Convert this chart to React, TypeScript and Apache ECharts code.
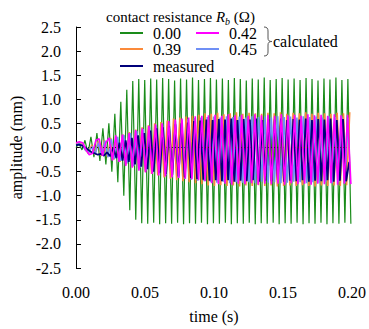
import React, { useEffect, useRef } from 'react';
import * as echarts from 'echarts';

// ---- data ----
const seriesNames = ['0.00', '0.39', '0.42', '0.45', 'measured'];
const xTicks = [0, 0.05, 0.1, 0.15, 0.2];
const yTicks = [-2.5, -2.0, -1.5, -1.0, -0.5, 0.0, 0.5, 1.0, 1.5, 2.0, 2.5];

// time of first extremum and spacing between successive extrema (s), per series
const startTimes = [0, 0, 0, 0, 0];
const halfPeriods = [0.002165, 0.00228, 0.0024, 0.00232, 0.00225];

// successive extremum values (mm)
const green000 = [
  0.0, 0.08, -0.05, 0.15, -0.12, 0.22, -0.2, 0.3, -0.28, 0.4, -0.35, 0.5, -0.5, 0.7, -0.72, 0.95, -1.0, 1.2, -1.3, 1.38, -1.5, 1.42, -1.57,
  1.4, -1.58, 1.43, -1.56, 1.41, -1.59, 1.44, -1.57, 1.42, -1.58,
  1.39, -1.56, 1.43, -1.59, 1.41, -1.57, 1.45, -1.58, 1.4, -1.56,
  1.42, -1.59, 1.44, -1.57, 1.41, -1.58, 1.43, -1.56, 1.4, -1.59,
  1.44, -1.57, 1.42, -1.58, 1.39, -1.56, 1.43, -1.59, 1.41, -1.57,
  1.45, -1.58, 1.4, -1.56, 1.42, -1.59, 1.44, -1.57, 1.41, -1.58,
  1.43, -1.56, 1.4, -1.59, 1.44, -1.57, 1.42, -1.58, 1.39, -1.56,
  1.43, -1.59, 1.41, -1.57, 1.45, -1.58, 1.4, -1.56, 1.42, -1.58,
];
const orange039 = [
  0.08, 0.1, 0.06, -0.05, -0.12, 0.05, -0.15, 0.12, -0.18, 0.15, -0.2, 0.2, -0.25, 0.22, -0.3, 0.27, -0.35, 0.32, -0.4, 0.37, -0.45,
  0.42, -0.5, 0.46, -0.55, 0.5, -0.58, 0.53, -0.62, 0.56, -0.65,
  0.6, -0.68, 0.62, -0.7, 0.64, -0.72, 0.66, -0.74, 0.68, -0.76,
  0.71, -0.79, 0.7, -0.8, 0.72, -0.78, 0.69, -0.8, 0.71, -0.79,
  0.73, -0.81, 0.7, -0.79, 0.72, -0.8, 0.71, -0.78, 0.7, -0.8,
  0.72, -0.79, 0.71, -0.81, 0.73, -0.8, 0.7, -0.79, 0.72, -0.8,
  0.71, -0.78, 0.73, -0.8, 0.7, -0.81, 0.72, -0.79, 0.71, -0.8,
  0.7, -0.79, 0.72, -0.8, 0.71, -0.78, 0.73,
];
const magenta042 = [
  0.1, 0.12, 0.1, -0.05, -0.15, -0.12, 0.15, 0.18, -0.17, 0.1, 0.2, -0.27, 0.25, -0.3, 0.27, -0.38, 0.3, -0.42, 0.36, -0.48,
  0.4, -0.52, 0.45, -0.55, 0.48, -0.58, 0.5, -0.6, 0.55, -0.62, 0.58, -0.63, 0.6, -0.65, 0.62, -0.66, 0.65, -0.68, 0.66, -0.7,
  0.67, -0.74, 0.68, -0.76, 0.66, -0.75, 0.69, -0.77, 0.67, -0.75,
  0.68, -0.76, 0.66, -0.74, 0.69, -0.77, 0.67, -0.75, 0.68, -0.76,
  0.66, -0.75, 0.69, -0.77, 0.67, -0.74, 0.68, -0.76, 0.66, -0.75,
  0.69, -0.77, 0.67, -0.75, 0.68, -0.76, 0.66, -0.74, 0.69, -0.77,
  0.67, -0.75, 0.68, -0.76,
];
const blue045 = [
  0.06, 0.08, 0.04, -0.06, -0.1, 0.02, -0.14, 0.1, -0.16, 0.14, -0.2, 0.18, -0.24, 0.22, -0.28, 0.26, -0.33, 0.3, -0.38, 0.34, -0.42,
  0.38, -0.47, 0.42, -0.51, 0.46, -0.54, 0.49, -0.57, 0.52, -0.6,
  0.55, -0.63, 0.57, -0.65, 0.59, -0.67, 0.61, -0.69, 0.62, -0.7,
  0.63, -0.72, 0.64, -0.73, 0.62, -0.71, 0.65, -0.74, 0.63, -0.72,
  0.64, -0.73, 0.62, -0.72, 0.65, -0.74, 0.63, -0.71, 0.64, -0.73,
  0.62, -0.72, 0.65, -0.74, 0.63, -0.73, 0.64, -0.71, 0.62, -0.72,
  0.65, -0.74, 0.63, -0.72, 0.64, -0.73, 0.62, -0.71, 0.65, -0.74,
  0.63, -0.72, 0.64, -0.73, 0.62,
];
const measured = [
  0.05, 0.06, 0.04, 0.0, -0.05, -0.1, -0.12, -0.15, -0.13, -0.17, -0.1, -0.18, 0.0, -0.22, 0.1, -0.27, 0.15, -0.3, 0.2, -0.35,
  0.25, -0.4, 0.3, -0.45, 0.35, -0.5, 0.4, -0.52, 0.42, -0.55, 0.45, -0.57, 0.48, -0.6, 0.5, -0.62, 0.52, -0.63, 0.55, -0.65,
  0.56, -0.67, 0.58, -0.69, 0.57, -0.68, 0.59, -0.7, 0.58, -0.68,
  0.6, -0.71, 0.57, -0.69, 0.59, -0.7, 0.58, -0.68, 0.6, -0.71,
  0.57, -0.69, 0.59, -0.7, 0.58, -0.68, 0.6, -0.71, 0.57, -0.69,
  0.59, -0.7, 0.58, -0.68, 0.6, -0.71, 0.57, -0.69, 0.59, -0.7,
  0.58, -0.68, 0.6, -0.71, 0.57, -0.69, 0.59, -0.7, -0.3,
];
const seriesValues = [green000, orange039, magenta042, blue045, measured];

// ---- styles ----
const FONT = 'Liberation Serif';
const colors = ['#1a8c1a', '#fb8a3a', '#ff00ff', '#6f8ff5', '#00007a'];
const widths = [1.2, 1.6, 1.6, 1.6, 1.8];
const drawZ = [1, 2, 5, 3, 4];

echarts.graphic.registerShape(
  'brace',
  echarts.graphic.extendPath(
    'M0,0 C3,0 4,1.5 4,4 L4,11 C4,13.5 5,14.5 8,14.5 C5,14.5 4,15.5 4,18 L4,25 C4,27.5 3,29 0,29',
    {}
  )
);

function toPoints(start: number, step: number, values: number[]) {
  return values.map((v, i) => [start + i * step, v]);
}

export default function App() {
  const ref = useRef<HTMLDivElement>(null);
  useEffect(() => {
    if (!ref.current) return;
    const chart = echarts.init(ref.current, undefined, { renderer: 'svg' });

    const series: any[] = seriesNames.map((name, k) => ({
      name,
      type: 'line',
      data: toPoints(startTimes[k], halfPeriods[k], seriesValues[k]),
      symbol: 'none',
      z: drawZ[k],
      lineStyle: { color: colors[k], width: widths[k] },
      itemStyle: { color: colors[k] },
      silent: true,
    }));
    series[2].markLine = {
      silent: true,
      symbol: 'none',
      label: { show: false },
      lineStyle: { color: '#222', type: [1, 2], width: 1 },
      data: [{ yAxis: 0 }],
    };

    const legendRows = [
      { k: 0, x: 120, y: 33 },
      { k: 2, x: 196, y: 33 },
      { k: 1, x: 120, y: 49 },
      { k: 3, x: 196, y: 49 },
      { k: 4, x: 120, y: 66 },
    ];
    const legendGraphics: any[] = [];
    legendRows.forEach((r) => {
      legendGraphics.push({
        type: 'line',
        shape: { x1: r.x, y1: r.y, x2: r.x + 23, y2: r.y },
        style: { stroke: colors[r.k], lineWidth: 2 },
      });
      legendGraphics.push({
        type: 'text',
        x: r.x + 33,
        y: r.y,
        style: {
          text: seriesNames[r.k],
          fontFamily: FONT,
          fontSize: 16,
          fill: '#000',
          verticalAlign: 'middle',
        },
      });
    });

    const axisText = { fontFamily: FONT, fontSize: 16, color: '#000' };

    chart.setOption({
      animation: false,
      textStyle: { fontFamily: FONT },
      grid: { left: 76, right: 14, top: 27, bottom: 57 },
      xAxis: {
        type: 'value',
        min: xTicks[0],
        max: xTicks[xTicks.length - 1],
        interval: 0.05,
        axisLine: { show: false },
        axisTick: { show: false },
        splitLine: { show: false },
        axisLabel: {
          ...axisText,
          margin: 16,
          formatter: (v: number) => v.toFixed(2),
        },
        name: 'time (s)',
        nameLocation: 'middle',
        nameGap: 40,
        nameTextStyle: axisText,
      },
      yAxis: {
        type: 'value',
        min: yTicks[0],
        max: yTicks[yTicks.length - 1],
        interval: 0.5,
        axisLine: { show: true, lineStyle: { color: '#000', width: 1 } },
        axisTick: { show: true, inside: true, length: 5, lineStyle: { color: '#000' } },
        splitLine: { show: false },
        axisLabel: {
          ...axisText,
          margin: 15,
          formatter: (v: number) => v.toFixed(1),
        },
        name: 'amplitude (mm)',
        nameLocation: 'middle',
        nameGap: 48,
        nameTextStyle: axisText,
      },
      series,
      graphic: [
        {
          type: 'text',
          x: 106,
          y: 17,
          style: {
            text: '{n|contact resistance }{i|R}{s|b}{n| (Ω)}',
            verticalAlign: 'middle',
            fill: '#000',
            rich: {
              n: { fontFamily: FONT, fontSize: 15, lineHeight: 18, verticalAlign: 'middle' },
              i: { fontFamily: FONT, fontSize: 15, fontStyle: 'italic', lineHeight: 18, verticalAlign: 'middle' },
              s: { fontFamily: FONT, fontSize: 10, fontStyle: 'italic', lineHeight: 10, verticalAlign: 'bottom' },
            },
          },
        },
        ...legendGraphics,
        {
          type: 'brace',
          x: 264,
          y: 27,
          style: { stroke: '#555', fill: 'none', lineWidth: 1 },
        },
        {
          type: 'text',
          x: 273,
          y: 41,
          style: {
            text: 'calculated',
            fontFamily: FONT,
            fontSize: 16,
            fill: '#000',
            verticalAlign: 'middle',
          },
        },
      ],
    });
    return () => chart.dispose();
  }, []);
  return (
    <div
      ref={ref}
      style={{ position: 'absolute', left: 0, top: 0, width: 369, height: 329 }}
    />
  );
}
